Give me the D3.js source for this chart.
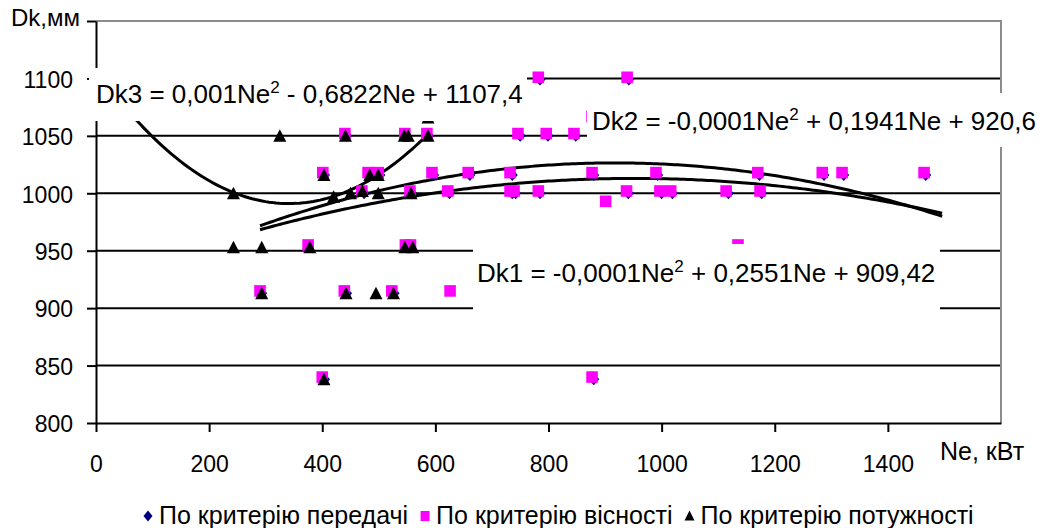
<!DOCTYPE html>
<html>
<head>
<meta charset="utf-8">
<script src="https://cdn.jsdelivr.net/npm/d3@7"></script>
<style>
  body { margin: 0; background: #fff; }
  svg { display: block; }
  text { font-family: "Liberation Sans", Arial, sans-serif; fill: #000; }
</style>
</head>
<body>
<svg id="chart" width="1062" height="528"></svg>
<script>
// ---- data: Ne (кВт) and Dk (мм) for each criterion ----
const seriesNames = ["По критерію передачі", "По критерію вісності", "По критерію потужності"];

// По критерію передачі (diamonds)
const transNe = [785, 942, 443, 549, 588, 750, 799, 848, 404, 485, 502, 597, 661, 736, 880, 993, 1173, 1287, 1322, 1467,
                 474, 558, 625, 736, 742, 785, 941, 1000, 1019, 1118, 1177, 293, 443, 527, 404, 880];
const transDk = [1099, 1099, 1050, 1050, 1050, 1050, 1050, 1050, 1016, 1016, 1016, 1016, 1016, 1016, 1016, 1016, 1016, 1016, 1016, 1016,
                 1000, 1000, 1000, 1000, 1000, 1000, 1000, 1000, 1000, 1000, 1000, 913, 913, 913, 838, 838];

// По критерію вісності (squares)
const strengthNe = [782, 939, 440, 546, 585, 746, 796, 845, 877, 401, 481, 499, 594, 658, 732, 877, 990, 1170, 1284, 1319, 1464,
                    470, 555, 622, 732, 739, 782, 938, 997, 1016, 1114, 1174, 901, 375, 547, 556, 1135, 290, 439, 523, 626, 400, 877];
const strengthDk = [1101, 1101, 1052, 1052, 1052, 1052, 1052, 1052, 1067, 1018, 1018, 1018, 1018, 1018, 1018, 1018, 1018, 1018, 1018, 1018, 1018,
                    1002, 1002, 1002, 1002, 1002, 1002, 1002, 1002, 1002, 1002, 1002, 993, 955, 955, 955, 955, 915, 915, 915, 915, 840, 840];

// По критерію потужності (triangles)
const powerNe = [325, 441, 545, 552, 587, 587, 403, 484, 499, 243, 420, 450, 471, 499, 557, 243, 293, 378, 546, 560, 293, 442, 495, 526, 403];
const powerDk = [1050, 1050, 1050, 1050, 1050, 1066, 1016, 1016, 1016, 1000, 997, 1000, 1002, 1000, 1000, 953, 953, 953, 953, 953, 913, 913, 913, 913, 838];

// axis ticks
const xTickValues = [0, 200, 400, 600, 800, 1000, 1200, 1400];
const yTickValues = [800, 850, 900, 950, 1000, 1050, 1100, 1150];
const yTickLabels = ["800", "850", "900", "950", "1000", "1050", "1100", ""];

// quadratic trend lines: a*Ne^2 + b*Ne + c over [from, to]
const trendA = [-0.000139, -0.000102, 0.001];
const trendB = [0.2551, 0.1941, -0.6822];
const trendC = [909.42, 920.6, 1107.4];
const trendFrom = [290, 290, 0];
const trendTo = [1500, 1500, 588];
const trendNames = ["Dk1", "Dk2", "Dk3"];
const trendA_text = ["-0,0001", "-0,0001", "0,001"];
const trendB_text = ["+ 0,2551", "+ 0,1941", "- 0,6822"];
const trendC_text = ["909,42", "920,6", "1107,4"];

// ---- layout ----
const plot = { left: 96, right: 1001, top: 21, bottom: 423 };
const x = d3.scaleLinear().domain([0, 1600]).range([plot.left, plot.right]);
const y = d3.scaleLinear().domain([800, 1150]).range([plot.bottom, plot.top]);
const svg = d3.select("#chart");

// horizontal gridlines
svg.append("g")
  .selectAll("line")
  .data(yTickValues.filter(v => v > 800 && v < 1150))
  .join("line")
  .attr("x1", x(0)).attr("x2", x(1600))
  .attr("y1", d => y(d)).attr("y2", d => y(d))
  .attr("stroke", "#000").attr("stroke-width", 2);

// plot frame (top and right)
svg.append("path")
  .attr("d", `M${x(0)},${y(1150)}H${x(1600)}V${y(800)}`)
  .attr("fill", "none").attr("stroke", "#8c8c8c").attr("stroke-width", 2);

// axes
const xAxis = d3.axisBottom(x)
  .tickValues(xTickValues)
  .tickSize(9).tickSizeOuter(0).tickPadding(24)
  .tickFormat(d3.format("d"));
const gx = svg.append("g").attr("transform", `translate(0,${plot.bottom})`).call(xAxis);

const yAxis = d3.axisLeft(y)
  .tickValues(yTickValues)
  .tickSize(9).tickSizeOuter(0).tickPadding(14)
  .tickFormat((d, i) => yTickLabels[i]);
const gy = svg.append("g").attr("transform", `translate(${plot.left},0)`).call(yAxis);

[gx, gy].forEach(g => {
  g.attr("font-family", null).attr("font-size", null);
  g.select(".domain").attr("stroke", "#000").attr("stroke-width", 2);
  g.selectAll(".tick line").attr("stroke", "#000").attr("stroke-width", 2);
  g.selectAll(".tick text").attr("font-size", 23).attr("fill", "#000");
});
gy.selectAll(".tick text").attr("dy", "0.38em");

// axis titles
svg.append("text").attr("x", 11).attr("y", 26).attr("font-size", 24).text("Dk,мм");
svg.append("text").attr("x", 940).attr("y", 460).attr("font-size", 25).text("Ne, кВт");

// trend curves
const trendData = trendA.map((a, i) => d3.range(trendFrom[i], trendTo[i] + 0.001, 6)
  .map(ne => [ne, a * ne * ne + trendB[i] * ne + trendC[i]]));
svg.append("g")
  .selectAll("path")
  .data(trendData)
  .join("path")
  .attr("d", d3.line().x(d => x(d[0])).y(d => y(d[1])))
  .attr("fill", "none").attr("stroke", "#000").attr("stroke-width", 3);

// markers
const diamondPath = "M0,-6L5.5,0L0,6L-5.5,0Z";
const squarePath = "M-5.8,-5.8H5.8V5.8H-5.8Z";
const trianglePath = "M0,-6.5L6.5,6L-6.5,6Z";

svg.append("g").selectAll("path")
  .data(d3.zip(transNe, transDk)).join("path")
  .attr("transform", d => `translate(${x(d[0])},${y(d[1])})`)
  .attr("d", diamondPath).attr("fill", "#000080");

svg.append("g").selectAll("path")
  .data(d3.zip(strengthNe, strengthDk)).join("path")
  .attr("transform", d => `translate(${x(d[0])},${y(d[1])})`)
  .attr("d", squarePath).attr("fill", "#ff00ff");

svg.append("g").selectAll("path")
  .data(d3.zip(powerNe, powerDk)).join("path")
  .attr("transform", d => `translate(${x(d[0])},${y(d[1])})`)
  .attr("d", trianglePath).attr("fill", "#000");

// trend equation labels on white boxes
const labelBoxes = [
  { x0: 473, y0: 244, x1: 940, y1: 312, tx: 477, ty: 282 },
  { x0: 587, y0: 93, x1: 1040, y1: 147, tx: 592, ty: 130 },
  { x0: 89, y0: 68, x1: 527, y1: 121, tx: 96, ty: 103 }
];
const labels = svg.append("g");
labelBoxes.forEach((b, i) => {
  labels.append("rect")
    .attr("x", b.x0).attr("y", b.y0)
    .attr("width", b.x1 - b.x0).attr("height", b.y1 - b.y0)
    .attr("fill", "#fff");
  const t = labels.append("text")
    .attr("x", b.tx).attr("y", b.ty).attr("font-size", 26);
  t.append("tspan").text(`${trendNames[i]} = ${trendA_text[i]}Ne`);
  t.append("tspan").attr("font-size", 17).attr("dy", -10).text("2");
  t.append("tspan").attr("dy", 10).text(` ${trendB_text[i]}Ne + ${trendC_text[i]}`);
});

// legend
const legend = svg.append("g").attr("transform", "translate(0,524)");
const legendMarks = [
  { d: "M0,-5.5L4.5,0L0,5.5L-4.5,0Z", fill: "#000080" },
  { d: "M-4.5,-5H4.5V5H-4.5Z", fill: "#ff00ff" },
  { d: "M0,-5.5L5,4.5L-5,4.5Z", fill: "#000" }
];
let lx = 143;
seriesNames.forEach((name, i) => {
  legend.append("path")
    .attr("transform", `translate(${lx + 5},-8)`)
    .attr("d", legendMarks[i].d).attr("fill", legendMarks[i].fill);
  const t = legend.append("text").attr("x", lx + 16).attr("y", 0).attr("font-size", 25).text(name);
  lx += 16 + t.node().getComputedTextLength() + 12;
});
</script>
</body>
</html>
